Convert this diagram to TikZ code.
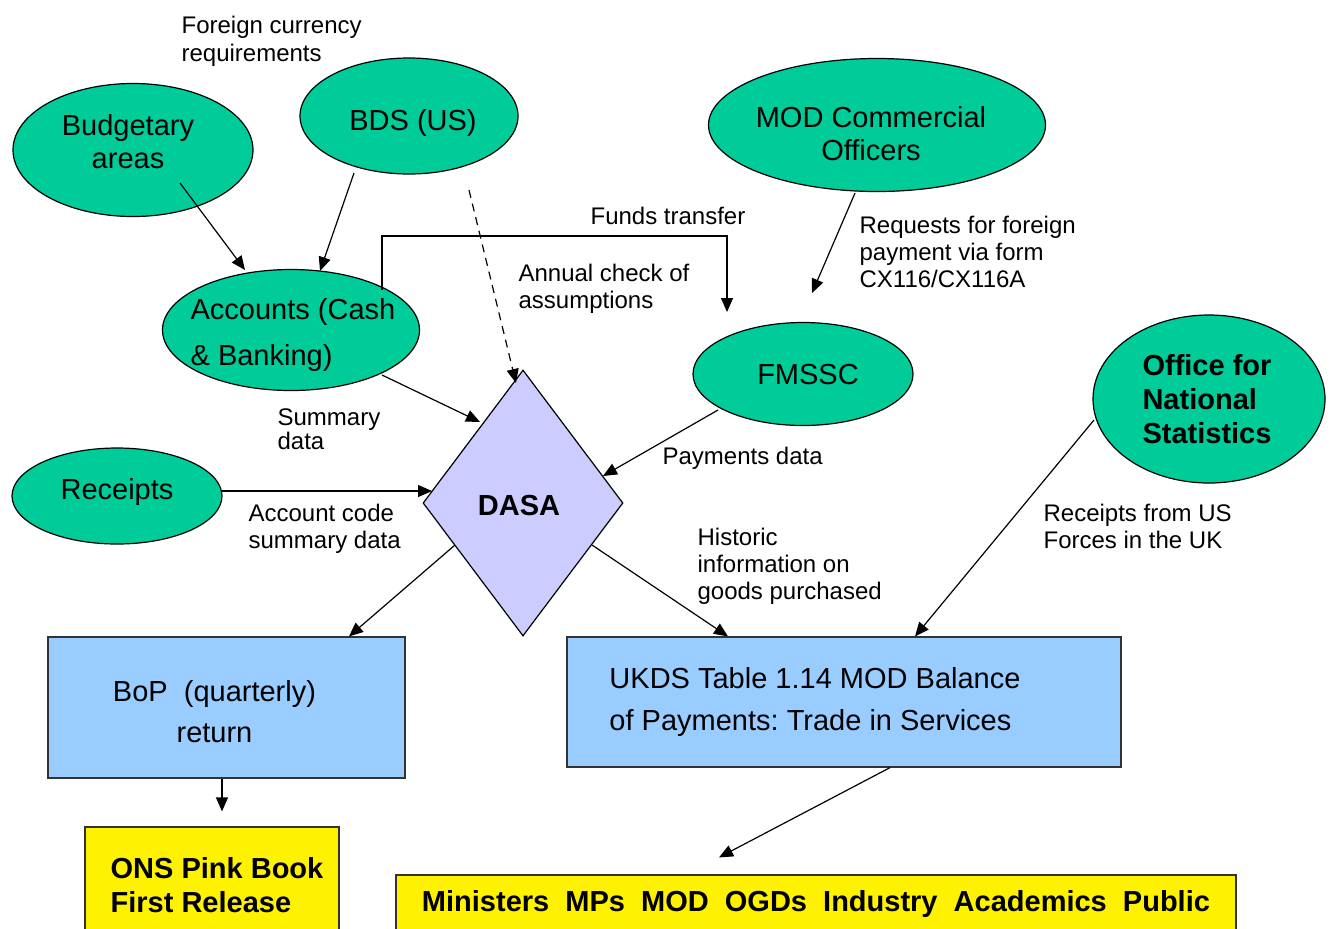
\documentclass[tikz,border=0pt]{standalone}
\usepackage{fontspec}
\setmainfont{Liberation Sans}
\frenchspacing
\usetikzlibrary{shapes.geometric, arrows.meta, positioning}
\definecolor{seagreen}{RGB}{0,204,153}
\definecolor{lavender}{RGB}{204,204,255}
\definecolor{paleblue}{RGB}{153,204,255}
\tikzset{
  >={Triangle[length=7pt,width=6pt]},
  big/.style={font=\fontsize{14.5}{16.5}\selectfont, align=center},
  bigbold/.style={font=\fontsize{14.5}{17}\selectfont\bfseries, align=left},
  blob/.style={ellipse, draw, fill=seagreen, inner sep=0pt},
  sheet/.style={rectangle, draw=black!80, fill=paleblue, inner sep=0pt},
  outbox/.style={rectangle, draw=black!80, fill=yellow, inner sep=0pt},
  note/.style={anchor=west, inner sep=0pt, align=left, font=\fontsize{12}{13.5}\selectfont},
}

\begin{document}
\begin{tikzpicture}[x=0.5pt, y=-0.5pt, line width=0.6pt]
      \useasboundingbox (0,0) rectangle (1331,928);
      \clip (0,0) rectangle (1331,928);

      \node[blob, minimum width=120pt, minimum height=66.5pt,
            label={[big, xshift=-2.5pt, yshift=4pt]center:Budgetary\\areas}] (bud) at (133,150) {};
      \node[blob, minimum width=109pt, minimum height=58pt,
            label={[big, xshift=2pt, yshift=-3.5pt]center:BDS (US)}] (bds) at (409,116) {};
      \node[blob, minimum width=168.5pt, minimum height=66.5pt,
            label={[big, xshift=-3pt, yshift=-4.5pt]center:MOD Commercial\\Officers}] (mod) at (877,125) {};
      \node[blob, minimum width=128.5pt, minimum height=60.5pt,
            label={[big, align=left, font=\fontsize{14.5}{23}\selectfont, xshift=1pt, yshift=-2.5pt]center:Accounts (Cash\\\& Banking)}] (acc) at (291,330) {};
      \node[blob, minimum width=110pt, minimum height=51.5pt,
            label={[big, xshift=2.5pt, yshift=-0.5pt]center:FMSSC}] (fms) at (803,374) {};
      \node[blob, minimum width=116pt, minimum height=84pt,
            label={[bigbold, xshift=-1pt]center:Office for\\National\\Statistics}] (ons) at (1209,399) {};
      \node[blob, minimum width=105pt, minimum height=48pt,
            label={[big, yshift=2pt]center:Receipts}] (rec) at (117,496) {};

      \node[diamond, draw, fill=lavender, minimum width=100pt, minimum height=133pt, inner sep=0pt,
            label={[bigbold, xshift=-2pt, yshift=-1.5pt]center:DASA}] (dasa) at (523,503) {};

      \node[sheet, minimum width=178.5pt, minimum height=70.5pt,
            label={[big, font=\fontsize{14.5}{20.5}\selectfont, xshift=-6pt, yshift=-2pt]center:BoP\ \ (quarterly)\\return}] (bop) at (226.5,707.5) {};
      \node[sheet, minimum width=277pt, minimum height=65pt,
            label={[big, align=left, font=\fontsize{14.5}{21}\selectfont, xshift=-14.5pt, yshift=0pt]center:UKDS Table 1.14 MOD Balance\\of Payments: Trade in Services}] (ukds) at (844,702) {};
      \node[outbox, minimum width=127pt, minimum height=58pt,
            label={[bigbold, xshift=2.5pt]center:ONS Pink Book\\First Release}] (pink) at (212,885) {};
      \node[outbox, minimum width=420pt, minimum height=29pt, bigbold] (mins) at (816,904)
            {Ministers\ \ MPs\ \ MOD\ \ OGDs\ \ Industry\ \ Academics\ \ Public};

      \node[note, font=\fontsize{12}{14}\selectfont] (fcr) at (181,41) {Foreign currency\\requirements};
      \node[note] (fundstx) at (590,216) {Funds transfer};
      \node[note] (annual) at (518,289) {Annual check of\\assumptions};
      \node[note] (reqtx) at (859,252) {Requests for foreign\\payment via form\\CX116/CX116A};
      \node[note, font=\fontsize{12}{12}\selectfont] (summ) at (277,429) {Summary\\data};
      \node[note] (paytx) at (662,458) {Payments data};
      \node[note] (acode) at (248,528.5) {Account code\\summary data};
      \node[note] (hist) at (697,566) {Historic\\information on\\goods purchased};
      \node[note] (usrec) at (1043,526.5) {Receipts from US\\Forces in the UK};

      \draw[->] ([shift={(47,33)}]bud.center) -- ([shift={(-46,-60)}]acc.center);
      \draw[->] ([shift={(-55,57)}]bds.center) -- ([shift={(29,-59)}]acc.center);
      \draw[->, dash pattern=on 4pt off 3pt] ([shift={(60,74)}]bds.center) -- ([shift={(-7,-120)}]dasa.center);
      \draw[->] ([shift={(91,-40)}]acc.center) -- ++(0,-54) -| ([shift={(-76,-62)}]fms.center);
      \draw[->] ([shift={(-22,68)}]mod.center) -- ([shift={(9,-81)}]fms.center);
      \draw[->] ([shift={(91,45)}]acc.center) -- ([shift={(-43,-81)}]dasa.center);
      \draw[->] ([shift={(-85,36)}]fms.center) -- ([shift={(80,-27)}]dasa.center);
      \draw[->] ([shift={(105,-5)}]rec.center) -- ([shift={(-91,-12)}]dasa.center);
      \draw[->] ([shift={(-68,42)}]dasa.center) -- ([shift={(122.5,0)}]bop.north);
      \draw[->] ([shift={(69,42)}]dasa.center) -- ([shift={(-116,0)}]ukds.north);
      \draw[->] ([shift={(-115,21)}]ons.center) -- ([shift={(71,0)}]ukds.north);
      \draw[->] ([shift={(-4.5,0)}]bop.south) -- ([shift={(10,-15)}]pink.north);
      \draw[->] ([shift={(46,0)}]ukds.south) -- ([shift={(-97,-17)}]mins.north);
\end{tikzpicture}
\end{document}
